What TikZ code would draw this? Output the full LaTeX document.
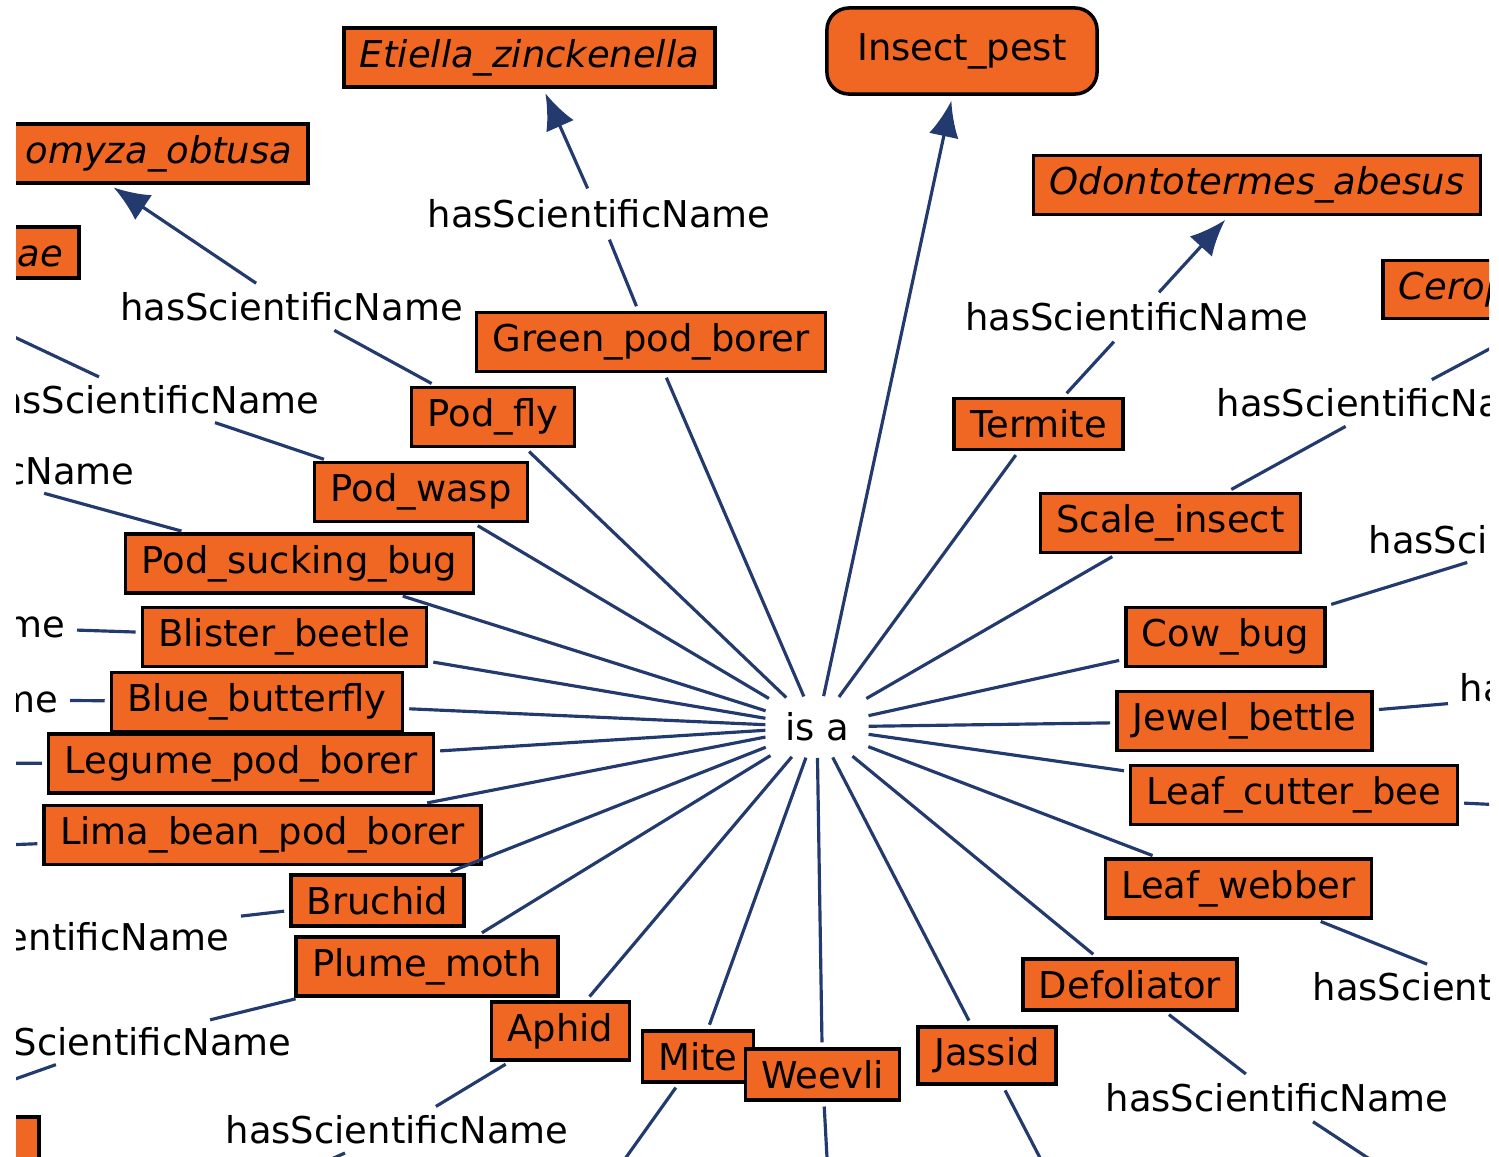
\documentclass[tikz,border=0pt]{standalone}
\usepackage{fontspec}
\setmainfont{DejaVu Sans}
\usetikzlibrary{arrows.meta,positioning}
\definecolor{pestfill}{RGB}{240,102,35}
\definecolor{edgeblue}{RGB}{35,58,110}

\begin{document}
\begin{tikzpicture}[x=0.01cm,y=-0.01cm,
	font=\fontsize{10.5}{12}\selectfont,
	box/.style={draw=black,fill=pestfill,line width=1pt,inner xsep=0.16cm,inner ysep=0.11cm,text height=0.28cm},
	sci/.style={box,font=\fontsize{10.5}{12}\selectfont\itshape},
	rel/.style={inner sep=0.06cm,text height=0.28cm},
	link/.style={draw=edgeblue,line width=0.9pt,shorten <=0.05cm,shorten >=0.05cm},
	>={Latex[length=0.36cm,width=0.3cm]}]
	\useasboundingbox (0,0) rectangle (1499,1157);
	\clip (16,0) rectangle (1489,1157);
	% centre of the star
	\node[rel,inner xsep=0.14cm,inner ysep=0.11cm] (isa) at (817,727) {is a};
	\node[box,rounded corners=0.22cm,minimum width=2.7cm,minimum height=0.86cm] (insect) at (962,51) {Insect\_pest};
	% pests, left side
	\node[box] (greenpod) at (651,342) {Green\_pod\_borer};
	\node[box] (podfly) at (493,417) {Pod\_fly};
	\node[box] (podwasp) at (421,492) {Pod\_wasp};
	\node[box] (podsuck) at (299.5,563.5) {Pod\_sucking\_bug};
	\node[box] (blister) at (284.5,637) {Blister\_beetle};
	\node[box] (bluebf) at (257,702) {Blue\_butterfly};
	\node[box] (legume) at (241,763.5) {Legume\_pod\_borer};
	\node[box] (lima) at (262.5,835) {Lima\_bean\_pod\_borer};
	\node[box] (bruchid) at (377.5,900.5) {Bruchid};
	\node[box] (plume) at (427,966.5) {Plume\_moth};
	\node[box] (aphid) at (560.5,1031) {Aphid};
	\node[box] (mite) at (698,1056.5) {Mite};
	\node[box] (weevli) at (822.5,1074.5) {Weevli};
	% pests, right side
	\node[box] (termite) at (1038.5,424) {Termite};
	\node[box] (scale) at (1170.5,523) {Scale\_insect};
	\node[box] (cowbug) at (1225.5,637) {Cow\_bug};
	\node[box] (jewel) at (1244.5,721) {Jewel\_bettle};
	\node[box] (leafcut) at (1294,795) {Leaf\_cutter\_bee};
	\node[box] (leafweb) at (1238.5,888.5) {Leaf\_webber};
	\node[box] (defol) at (1130,984.5) {Defoliator};
	\node[box] (jassid) at (987,1055.5) {Jassid};
	% scientific names
	\node[sci] (etiella) at (529.5,57.5) {Etiella\_zinckenella};
	\node[sci,anchor=east,text width=4.58cm,align=right] (melan) at (310,153.5) {omyza\_obtusa\hspace{0.1cm}};
	\node[sci,anchor=east,text width=2.34cm,align=right] (ae) at (81,252.5) {ae\hspace{0.08cm}};
	\node[sci] (odonto) at (1257,185) {Odontotermes\_abesus};
	\node[sci,anchor=west,text width=4.04cm,align=left] (cerop) at (1381,289.5) {Cerop};
	\node[box,anchor=north east,minimum width=3cm,minimum height=0.6cm] (lowbox) at (41,1115) {};
	% relation labels
	\node[rel] (hsnA) at (599,214) {hasScientificName};
	\node[rel] (hsnB) at (291.5,307) {hasScientificName};
	\node[rel] (hsnC) at (148,400) {hasScientificName};
	\node[rel] (hsnD) at (-37,471) {hasScientificName};
	\node[rel] (hsnE) at (-106,624) {hasScientificName};
	\node[rel] (hsnF) at (-113,699) {hasScientificName};
	\node[rel] (hsnG) at (58,937) {hasScientificName};
	\node[rel] (hsnH) at (120,1042) {hasScientificName};
	\node[rel] (hsnI) at (397,1130) {hasScientificName};
	\node[rel] (hsnJ) at (1136.5,317) {hasScientificName};
	\node[rel] (hsnK) at (1388,403) {hasScientificName};
	\node[rel] (hsnL) at (1540,540) {hasScientificName};
	\node[rel] (hsnM) at (1631,688) {hasScientificName};
	\node[rel] (hsnN) at (1484,987) {hasScientificName};
	\node[rel] (hsnO) at (1277,1098) {hasScientificName};
	% ends outside the frame
	\coordinate (outC) at (-200,236);
	\coordinate (outLeg) at (-150,763);
	\coordinate (outLima) at (-150,851);
	\coordinate (outH) at (-200,1155);
	\coordinate (outI) at (250,1195);
	\coordinate (outMite) at (560,1250);
	\coordinate (outWeevli) at (832,1250);
	\coordinate (outJassid) at (1080,1235);
	\coordinate (outLeafcut) at (1650,812);
	\coordinate (outO) at (1450,1212);
	% is a
	\foreach \n in {greenpod,podfly,podwasp,podsuck,blister,bluebf,legume,lima,bruchid,plume,aphid,mite,weevli,termite,scale,cowbug,jewel,leafcut,leafweb,defol,jassid}
		\draw[link] (isa) -- (\n);
	\draw[link,->] (isa) -- (insect);
	% hasScientificName
	\draw[link] (greenpod) -- (hsnA);
	\draw[link,->] (hsnA) -- (etiella);
	\draw[link] (podfly) -- (hsnB);
	\draw[link,->] (hsnB) -- (melan);
	\draw[link] (podwasp) -- (hsnC);
	\draw[link,->] (hsnC) -- (outC);
	\draw[link] (podsuck) -- (hsnD);
	\draw[link] (blister) -- (hsnE);
	\draw[link] (bluebf) -- (hsnF);
	\draw[link] (legume) -- (outLeg);
	\draw[link] (lima) -- (outLima);
	\draw[link] (bruchid) -- (hsnG);
	\draw[link] (plume) -- (hsnH);
	\draw[link,->] (hsnH) -- (outH);
	\draw[link] (aphid) -- (hsnI);
	\draw[link,->] (hsnI) -- (outI);
	\draw[link] (mite) -- (outMite);
	\draw[link] (weevli) -- (outWeevli);
	\draw[link] (jassid) -- (outJassid);
	\draw[link] (termite) -- (hsnJ);
	\draw[link,->] (hsnJ) -- (odonto);
	\draw[link] (scale) -- (hsnK);
	\draw[link,->] (hsnK) -- (cerop);
	\draw[link] (cowbug) -- (hsnL);
	\draw[link] (jewel) -- (hsnM);
	\draw[link] (leafcut) -- (outLeafcut);
	\draw[link] (leafweb) -- (hsnN);
	\draw[link] (defol) -- (hsnO);
	\draw[link,->] (hsnO) -- (outO);
\end{tikzpicture}
\end{document}
